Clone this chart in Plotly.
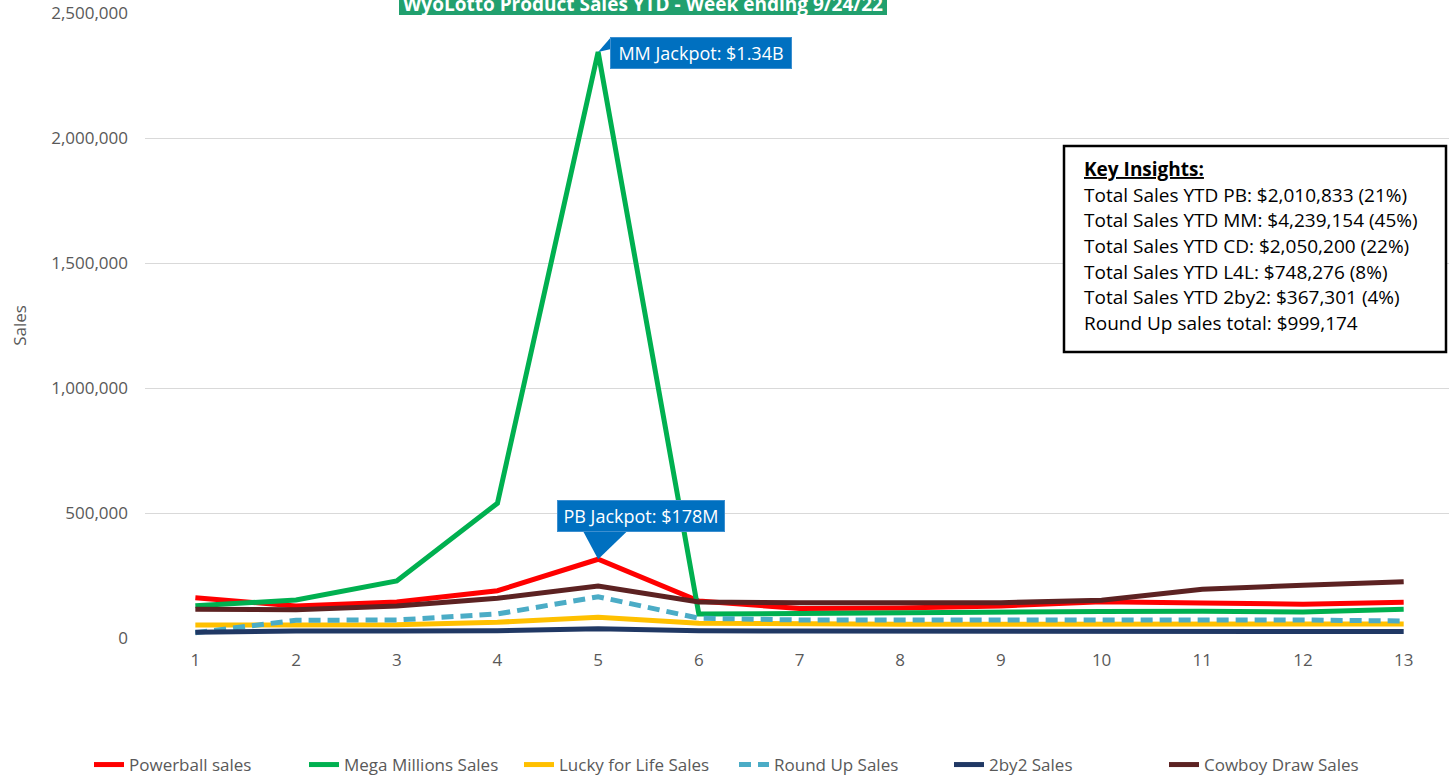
import plotly.graph_objects as go

# ---------------- data ----------------
weeks = list(range(1, 14))
powerball = [161000, 128000, 144000, 189000, 315000, 148000, 118000, 120000, 128000, 145000, 140000, 135000, 143000]
mega_millions = [129000, 152000, 228000, 539000, 2344000, 96000, 98000, 102000, 103000, 106000, 107000, 104000, 115000]
lucky_for_life = [52000, 52000, 53000, 63000, 83000, 59000, 55000, 55000, 55000, 55000, 55000, 55000, 56000]
round_up = [21000, 71000, 72000, 96000, 165000, 79000, 72000, 71000, 71000, 71000, 72000, 72000, 68000]
two_by_two = [23000, 28000, 28000, 29000, 37000, 29000, 28000, 28000, 28000, 28000, 28000, 27000, 26000]
cowboy_draw = [115000, 113000, 128000, 159000, 208000, 144000, 141000, 140000, 141000, 151000, 195000, 211000, 225000]

series_names = ["Powerball sales", "Mega Millions Sales", "Lucky for Life Sales",
                "Round Up Sales", "2by2 Sales", "Cowboy Draw Sales"]
series_values = [powerball, mega_millions, lucky_for_life, round_up, two_by_two, cowboy_draw]
series_colors = ["#FF0000", "#00B050", "#FFC000", "#4BACC6", "#203864", "#5C2222"]
series_dash = ["solid", "solid", "solid", "dash", "solid", "solid"]

y_ticks = [0, 500000, 1000000, 1500000, 2000000, 2500000]

title_text = "WyoLotto Product Sales YTD - Week ending 9/24/22"
insight_lines = [
    "<b><u>Key Insights:</u></b>",
    "Total Sales YTD PB: $2,010,833 (21%)",
    "Total Sales YTD MM: $4,239,154 (45%)",
    "Total Sales YTD CD: $2,050,200 (22%)",
    "Total Sales YTD L4L: $748,276 (8%)",
    "Total Sales YTD 2by2: $367,301 (4%)",
    "Round Up sales total: $999,174",
]
mm_label = "MM Jackpot: $1.34B"
pb_label = "PB Jackpot: $178M"

# ---------------- layout geometry ----------------
W, H = 1449, 775
ML, MR, MT, MB = 145, 0, 13, 137
PW = W - ML - MR
PH = H - MT - MB
FONT = "Open Sans"
GRAY = "#595959"


def px_x(px):
    return (px - ML) / PW


def px_y(py):
    return (H - MB - py) / PH


fig = go.Figure()
for name, vals, col, dash in zip(series_names, series_values, series_colors, series_dash):
    fig.add_trace(go.Scatter(
        x=weeks, y=vals, name=name, mode="lines",
        line=dict(color=col, width=5, dash=dash if dash == "solid" else "12px,7px"),
    ))

annotations = []
shapes = []

# title (partially cut at top, like the reference)
shapes.append(dict(type="rect", xref="paper", yref="paper",
                   x0=px_x(399), x1=px_x(887), y0=px_y(15), y1=px_y(-20),
                   line=dict(width=0), fillcolor="#21A06E", layer="above"))
annotations.append(dict(
    xref="paper", yref="paper", x=px_x(643), y=px_y(4), xanchor="center", yanchor="middle",
    text="<b>" + title_text + "</b>", showarrow=False,
    font=dict(family=FONT, size=19, color="white"),
))

# key insights box
shapes.append(dict(type="rect", xref="paper", yref="paper",
                   x0=px_x(1064), x1=px_x(1446), y0=px_y(352), y1=px_y(146),
                   line=dict(color="black", width=2.5), fillcolor="white", layer="above"))
line_y = [169, 195, 220, 246, 272, 297, 323]
for txt, ly in zip(insight_lines, line_y):
    annotations.append(dict(
        xref="paper", yref="paper", x=px_x(1082), y=px_y(ly), xanchor="left", yanchor="middle",
        text=txt, showarrow=False, font=dict(family=FONT, size=19, color="black"),
    ))

# MM jackpot callout
mm_x, mm_y = weeks[4], mega_millions[4]
annotations.append(dict(
    x=mm_x, y=mm_y, xref="x", yref="y", text=mm_label, showarrow=True,
    arrowcolor="rgba(0,0,0,0)", arrowwidth=0.1, ax=103, ay=1,
    font=dict(family=FONT, size=18, color="white"), bgcolor="#0070C0",
    bordercolor="#3C8FD0", borderwidth=1, borderpad=0, width=180, height=30,
))
shapes.append(dict(type="path", xref="x", yref="y", xsizemode="pixel", ysizemode="pixel",
                   xanchor=mm_x, yanchor=mm_y, path="M0,0 L13,15 L13,3 Z",
                   fillcolor="#0070C0", line=dict(width=0), layer="above"))

# PB jackpot callout
pb_x, pb_y = weeks[4], powerball[4]
annotations.append(dict(
    x=pb_x, y=pb_y, xref="x", yref="y", text=pb_label, showarrow=True,
    arrowcolor="rgba(0,0,0,0)", arrowwidth=0.1, ax=43, ay=-43,
    font=dict(family=FONT, size=18, color="white"), bgcolor="#0070C0",
    bordercolor="#3C8FD0", borderwidth=1, borderpad=0, width=166, height=30,
))
shapes.append(dict(type="path", xref="x", yref="y", xsizemode="pixel", ysizemode="pixel",
                   xanchor=pb_x, yanchor=pb_y, path="M0,0 L-15,28 L29,28 Z",
                   fillcolor="#0070C0", line=dict(width=0), layer="above"))

fig.update_layout(
    width=W, height=H,
    margin=dict(l=ML, r=MR, t=MT, b=MB, autoexpand=False),
    paper_bgcolor="white", plot_bgcolor="white",
    font=dict(family=FONT, color=GRAY, size=17),
    showlegend=True,
    legend=dict(orientation="h", x=px_x(734), xanchor="center", y=px_y(765), yanchor="middle",
                font=dict(family=FONT, size=17, color=GRAY), entrywidth=170, entrywidthmode="pixels",
                bgcolor="rgba(0,0,0,0)"),
    annotations=annotations, shapes=shapes,
    xaxis=dict(range=[0.5, 13.45], tickmode="array", tickvals=weeks, ticktext=[str(w) for w in weeks],
               showgrid=False, zeroline=False, showline=False, ticks="",
               tickfont=dict(family=FONT, size=17, color=GRAY), ticklabelstandoff=10),
    yaxis=dict(range=[0, 2500000], tickmode="array", tickvals=y_ticks,
               ticktext=[f"{v:,}" for v in y_ticks], showgrid=True, gridcolor="#D9D9D9", gridwidth=1.3,
               zeroline=False, showline=False, ticks="", ticklabelstandoff=16,
               tickfont=dict(family=FONT, size=17, color=GRAY),
               title=dict(text="Sales", font=dict(family=FONT, size=17, color=GRAY), standoff=20)),
)

fig.write_html("out.html", config={"displayModeBar": False},
               post_script="document.body.style.margin='0';document.body.style.overflow='hidden';")
